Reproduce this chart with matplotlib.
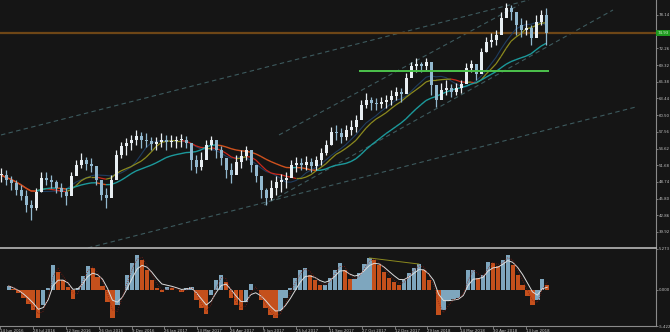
import numpy as np
import pandas as pd
import matplotlib
matplotlib.use("Agg")
import matplotlib.pyplot as plt
import matplotlib.transforms as mtransforms
from matplotlib.collections import LineCollection

# one sample every 5 sessions, mid Jun 2016 -> mid Jul 2018
high = [51.20, 50.84, 49.79, 49.08, 48.20, 47.32, 45.56, 47.67, 50.49, 50.49,
        49.96, 49.08, 48.55, 47.67, 50.49, 52.60, 53.84, 53.13, 52.96, 51.20,
        48.73, 47.67, 49.96, 54.37, 55.77, 56.48, 57.01, 57.89, 57.54, 57.36,
        56.66, 56.66, 57.36, 57.01, 57.01, 56.83, 57.18, 56.83, 54.89, 53.48,
        54.01, 56.13, 56.83, 56.13, 55.07, 52.96, 52.08, 53.48, 54.37, 55.07,
        53.48, 51.72, 49.43, 47.67, 49.08, 49.79, 50.14, 50.49, 52.60, 53.13,
        52.96, 53.31, 52.96, 53.31, 54.72, 56.13, 58.42, 58.77, 58.24, 58.77,
        59.65, 60.53, 63.17, 64.40, 63.70, 63.52, 63.70, 64.05, 64.93, 65.46,
        65.28, 67.92, 69.86, 70.57, 69.86, 70.57, 68.45, 64.93, 66.16, 66.69,
        65.99, 66.16, 66.69, 69.69, 70.21, 68.98, 72.33, 74.26, 74.97, 75.50,
        78.67, 80.25, 79.90, 78.14, 77.61, 77.26, 76.38, 78.14, 79.02, 79.37]
low = [48.73, 48.20, 47.32, 46.44, 45.56, 43.45, 42.04, 43.80, 46.97, 48.20,
       47.67, 46.79, 46.09, 44.68, 47.32, 49.96, 51.20, 50.84, 50.49, 48.20,
       45.56, 44.15, 46.09, 49.43, 52.96, 53.48, 54.37, 55.24, 54.72, 54.89,
       54.37, 54.37, 54.89, 54.37, 54.89, 54.72, 54.89, 54.72, 50.84, 50.31,
       50.84, 52.96, 54.37, 52.96, 51.72, 49.43, 48.55, 50.49, 51.20, 52.60,
       50.49, 48.73, 45.91, 44.68, 45.56, 46.44, 46.97, 47.67, 49.61, 50.49,
       50.84, 50.84, 50.49, 50.84, 51.72, 53.48, 55.24, 56.13, 55.60, 56.13,
       57.01, 57.54, 60.00, 61.76, 61.41, 61.41, 61.76, 61.76, 62.29, 63.17,
       62.82, 65.28, 67.57, 68.10, 68.10, 68.45, 64.05, 61.94, 63.52, 64.05,
       63.70, 64.05, 64.40, 67.04, 68.10, 66.69, 69.33, 71.62, 72.50, 72.86,
       75.50, 78.14, 77.26, 74.62, 74.26, 74.62, 72.86, 74.62, 76.38, 72.86]
close = [49.96, 49.08, 48.55, 47.32, 46.26, 44.68, 44.15, 46.97, 49.43, 49.08,
         48.73, 47.67, 46.97, 46.26, 49.79, 51.72, 52.60, 51.90, 51.55, 49.08,
         46.44, 45.91, 49.08, 53.48, 55.07, 55.60, 56.13, 56.83, 56.13, 55.95,
         55.42, 55.77, 56.13, 55.77, 55.95, 56.13, 56.13, 55.60, 52.60, 51.37,
         52.60, 55.24, 56.13, 54.37, 52.96, 50.84, 49.96, 52.25, 53.31, 54.37,
         51.72, 49.79, 47.32, 45.91, 47.67, 48.73, 49.08, 49.43, 51.72, 52.08,
         51.72, 52.25, 51.55, 52.60, 53.84, 55.24, 57.54, 57.36, 56.66, 57.89,
         58.42, 59.65, 62.29, 63.17, 62.64, 62.47, 62.82, 63.17, 63.87, 64.58,
         64.23, 67.04, 69.16, 69.51, 69.16, 69.86, 65.81, 63.17, 64.93, 65.28,
         64.58, 65.28, 65.99, 68.81, 69.51, 67.75, 71.62, 73.38, 73.74, 74.62,
         77.61, 79.37, 78.67, 76.38, 75.50, 75.85, 74.09, 76.91, 78.14, 74.97]
macd = [0.51, 0.13, -0.39, -1.03, -1.80, -2.57, -3.60, -1.93, 0.26, 3.22,
        2.31, 1.29, 0.39, -1.16, 0.26, 1.80, 3.09, 2.83, 1.67, 0.51,
        -1.54, -3.60, -1.93, 0.00, 1.93, 3.47, 4.50, 3.86, 2.57, 1.29,
        0.26, -0.26, 0.39, 0.26, 0.00, -0.26, 0.26, 0.39, -1.29, -2.31,
        -3.09, -0.64, 1.29, 1.93, 1.03, -1.03, -1.93, -2.57, -1.54, 0.77,
        0.00, -1.29, -2.31, -3.22, -3.60, -2.57, -1.03, 0.26, 1.54, 2.57,
        2.83, 1.93, 1.29, 0.64, 0.64, 1.54, 2.57, 3.47, 2.57, 1.41,
        1.41, 2.19, 3.34, 4.12, 3.86, 3.22, 2.31, 1.54, 1.03, 0.64,
        1.29, 2.19, 2.83, 3.34, 2.57, 1.29, 0.00, -3.20, -2.60, -1.40,
        -1.16, -1.03, 0.00, 2.57, 2.57, 1.54, 1.93, 3.60, 3.47, 3.09,
        3.86, 4.50, 3.22, 1.93, 0.64, -0.77, -1.93, -1.29, 1.41, 0.64]

date_labels = ["14 Jun 2016", "28 Jul 2016", "12 Sep 2016", "26 Oct 2016", "9 Dec 2016",
               "26 Jan 2017", "13 Mar 2017", "26 Apr 2017", "9 Jun 2017", "25 Jul 2017",
               "11 Sep 2017", "27 Oct 2017", "12 Dec 2017", "29 Jan 2018", "14 Mar 2018",
               "30 Apr 2018", "13 Jun 2018"]
price_ticks = [78.14, 72.26, 69.32, 66.38, 63.44, 60.50, 57.56, 54.62, 51.68,
               48.74, 45.80, 42.86, 39.92]
last_price = 74.93
support_level = 68.28
# trend lines: (session, price) -> (session, price)
trend_lines = [((0, 57.01), (528, 80.78)),
               ((278, 57.01), (518, 79.90)),
               ((263, 44.68), (612, 79.02)),
               ((87, 37.11), (635, 61.94))]

BG = "#151515"
TXT = "#c4c4c4"
FS = 2.8

high, low, close, macd = map(np.array, (high, low, close, macd))
step = 5
x = np.arange(len(close)) * step

fig = plt.figure(figsize=(6.7, 3.32), dpi=100, facecolor=BG)
ax1 = fig.add_axes([0, 84 / 332, 656 / 670, 248 / 332], facecolor=BG)
ax2 = fig.add_axes([0, 6 / 332, 656 / 670, 77 / 332], facecolor=BG)


def slope_line(ax, xs, ys, up_col, dn_col, lw, z):
    pts = np.column_stack([xs, ys]).reshape(-1, 1, 2)
    segs = np.concatenate([pts[:-1], pts[1:]], axis=1)
    cols = np.where(np.diff(ys) >= 0, up_col, dn_col)
    ax.add_collection(LineCollection(segs, colors=cols, linewidths=lw, zorder=z))


# %% price panel
for (x0, y0), (x1, y1) in trend_lines:
    ax1.plot([x0, x1], [y0, y1], color="#3d5a5e", lw=0.8, dashes=(4, 3), zorder=1)

ax1.axhline(last_price, color="#6e4616", lw=1.6, zorder=1)
ax1.hlines(support_level, 358, 548, color="#4cc24c", lw=1.4, zorder=4)

s = pd.Series(close)
ma_fast = s.rolling(8, min_periods=1).mean()
ma_mid = s.rolling(10, min_periods=1).mean()
ma_slow = s.rolling(20, min_periods=1).mean()
ax1.plot(x, ma_fast, color="#1f3c5e", lw=0.8, zorder=2)
slope_line(ax1, x, ma_mid.values, "#8c8a1e", "#c8281c", 0.9, 2)
slope_line(ax1, x, ma_slow.values, "#1c9a9c", "#d0521e", 1.0, 2)

opens = np.r_[close[0], close[:-1]]
up = close >= opens
cols = np.where(up, "#e8eef2", "#93b9cf")
ax1.vlines(x, low, high, colors=cols, lw=0.9, zorder=3)
body = np.maximum(np.abs(close - opens), 0.15)
ax1.bar(x, body, bottom=np.minimum(close, opens), width=3.0, color=cols,
        linewidth=0, zorder=3)

ax1.set_xlim(-1, 655)
ax1.set_ylim(37.10, 80.78)
ax1.yaxis.tick_right()
ax1.set_yticks(price_ticks)
ax1.set_yticklabels([f"{v:.2f}" for v in price_ticks])
ax1.set_xticks([])
ax1.tick_params(axis="y", colors="#8a8a8a", labelcolor=TXT, labelsize=FS,
                length=1.5, width=0.6, pad=0.6)
for side in ("left", "top"):
    ax1.spines[side].set_visible(False)
ax1.spines["right"].set_color("#8a8a8a")
ax1.spines["right"].set_linewidth(0.8)
ax1.spines["bottom"].set_color("#b8b8b8")
ax1.spines["bottom"].set_linewidth(1.2)

tr = mtransforms.blended_transform_factory(ax1.transAxes, ax1.transData)
ax1.text(1.002, last_price, f"{last_price:.2f}", transform=tr, ha="left", va="center",
         fontsize=FS, color="#d6f5d6",
         bbox=dict(boxstyle="square,pad=0.25", fc="#1f9a1f", ec="none"))

# %% MACD panel
rising = np.r_[True, np.diff(macd) >= 0]
hcols = np.where(rising, "#7ea6be", "#c4501c")
ax2.bar(x, macd, width=4.3, color=hcols, linewidth=0, zorder=2)
signal = pd.Series(macd).ewm(span=4).mean()
ax2.plot(x, signal, color="#dcdcdc", lw=0.7, zorder=3)
ax2.plot(x, pd.Series(macd).rolling(2, min_periods=1).mean(), color="#8a1e14",
         lw=0.6, ls=":", zorder=3)
ax2.plot([x[73], x[83]], [macd[73], macd[83]], color="#8c8a1e", lw=0.7, zorder=3)

ax2.set_xlim(-1, 655)
ax2.set_ylim(-4.63, 5.273)
ax2.yaxis.tick_right()
ax2.set_yticks([5.273, 0.0, -4.63])
ax2.set_yticklabels(["5.273", "0.000", "-5.422"])
ax2.tick_params(axis="y", colors="#8a8a8a", labelcolor=TXT, labelsize=FS,
                length=1.5, width=0.6, pad=0.6)
tick_pos = 24.5 + 33.27 * (np.arange(len(date_labels)) - 1)
ax2.set_xticks(tick_pos)
ax2.set_xticklabels(date_labels, ha="left")
ax2.tick_params(axis="x", colors="#8a8a8a", labelcolor=TXT, labelsize=2.8,
                length=2, width=0.6, pad=0.5)
ax2.spines["left"].set_visible(False)
ax2.spines["top"].set_visible(False)
for side in ("right", "bottom"):
    ax2.spines[side].set_color("#8a8a8a")
    ax2.spines[side].set_linewidth(0.8)

fig.savefig("out.png", dpi=100, facecolor=BG)
